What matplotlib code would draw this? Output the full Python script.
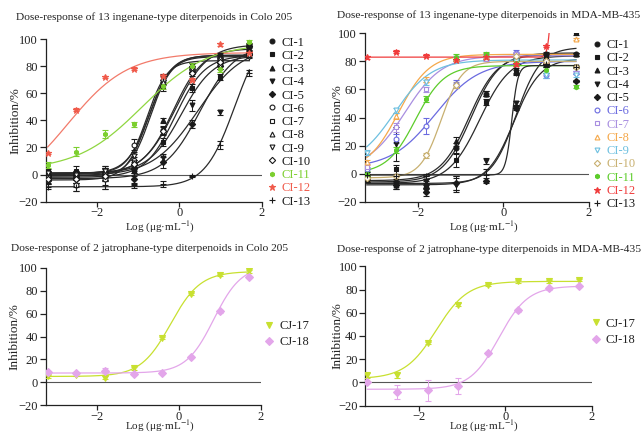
import numpy as np
import matplotlib
matplotlib.use("Agg")
import matplotlib.pyplot as plt
from matplotlib.lines import Line2D

plt.rcParams['font.family'] = ['Liberation Serif', 'DejaVu Serif']
plt.rcParams['mathtext.fontset'] = 'stix'

# ---------------- data ----------------
log_conc = [-3.19, -2.50, -1.80, -1.10, -0.40, 0.30, 1.00, 1.70]

ci_names = ['CI-1', 'CI-2', 'CI-3', 'CI-4', 'CI-5', 'CI-6', 'CI-7', 'CI-8',
            'CI-9', 'CI-10', 'CI-11', 'CI-12', 'CI-13']
ci_markers = ['o', 's', '^', 'v', 'D', 'o', 's', '^', 'v', 'D', 'h', '*', '+']
ci_filled = [True, True, True, True, True, False, False, False, False, False,
             True, True, True]

# Colo 205, ingenane-type
colo_ci_values = [
    [0, 1, 2, 5, 33, 76, 88, 96],
    [2, 3, 1, 3, 24, 64, 72, 90],
    [1, 0, 3, 6, 40, 77, 85, 93],
    [-2, -1, 0, 2, 12, 51, 46, 94],
    [-4, -3, -2, -3, 9, 37, 80, 95],
    [-4, -8, -3, 22, 70, 78, 85, 90],
    [-2, -1, 0, 10, 65, 80, 84, 88],
    [0, 1, 2, 12, 68, 80, 86, 89],
    [1, 0, 3, 14, 72, 78, 80, 87],
    [-3, -3, -1, 8, 32, 75, 83, 89],
    [7, 17, 30, 37, 65, 80, 78, 98],
    [16, 48, 72, 78, 73, 70, 96, 90],
    [-9, -9, -8, -8, -7, -1, 22, 75],
]
colo_ci_errors = [
    [2, 2, 3, 2, 3, 2, 2, 1],
    [2, 3, 2, 2, 3, 3, 2, 1],
    [2, 2, 3, 2, 2, 2, 2, 1],
    [2, 2, 2, 3, 3, 4, 2, 1],
    [2, 3, 3, 4, 4, 3, 2, 1],
    [3, 4, 8, 4, 3, 2, 2, 1],
    [2, 2, 4, 3, 3, 2, 2, 1],
    [2, 2, 3, 3, 2, 2, 2, 1],
    [2, 2, 3, 3, 2, 2, 2, 1],
    [2, 3, 3, 3, 3, 2, 2, 1],
    [2, 3, 3, 2, 2, 2, 2, 1],
    [1, 1, 1, 1, 1, 1, 1, 1],
    [2, 3, 3, 2, 2, 1, 3, 2],
]
colo_ci_bottom = [0, 1, 1, -1, -3, -4, -1, 1, 1, -2, 3, -15, -9]
colo_ci_top = [96, 88, 93, 95, 96, 88, 87, 88, 84, 88, 97, 90, 110]
colo_ci_logec50 = [-0.1, 0.05, -0.15, 0.45, 0.5, -0.75, -0.7, -0.72, -0.78, -0.1, -0.9, -2.7, 1.35]
colo_ci_hill = [1.1, 1.1, 1.2, 0.8, 1.0, 1.6, 1.7, 1.6, 1.8, 1.2, 0.55, 0.6, 1.2]
colo_ci_colors = ['#1a1a1a'] * 10 + ['#7ccf2f', '#f05a4a', '#1a1a1a']
colo_ci_curve_colors = ['#2a2a2a'] * 10 + ['#8fd640', '#f27a6a', '#2a2a2a']

# MDA-MB-435, ingenane-type
mda_ci_values = [
    [-4, -6, -10, 18, 57, 82, 85, 85],
    [-3, 3, -8, 10, 51, 73, 83, 100],
    [-4, -8, -7, 23, 57, 80, 79, 85],
    [-2, 21, -5, -8, 9, 50, 80, 76],
    [-3, -8, -13, -7, -5, 47, 78, 66],
    [3, 25, 34, 64, 83, 86, 70, 72],
    [5, 33, 60, 82, 82, 85, 80, 72],
    [8, 41, 67, 82, 84, 82, 81, 96],
    [15, 45, 65, 82, 83, 80, 70, 70],
    [-3, -2, 13, 63, 84, 84, 80, 76],
    [0, 17, 53, 83, 85, 79, 74, 62],
    [83, 87, 84, 81, 83, 78, 91, np.nan],
    [-1, -2, -2, -7, -1, 72, 78, 76],
]
mda_ci_errors = [
    [2, 2, 3, 4, 2, 2, 2, 1],
    [2, 3, 3, 5, 2, 2, 2, 1],
    [2, 3, 3, 3, 2, 2, 2, 1],
    [2, 12, 3, 5, 2, 2, 2, 1],
    [2, 3, 3, 5, 2, 2, 2, 1],
    [2, 3, 6, 3, 2, 2, 2, 1],
    [2, 3, 2, 2, 2, 2, 2, 1],
    [2, 2, 2, 2, 2, 2, 2, 1],
    [2, 2, 2, 2, 2, 2, 2, 1],
    [2, 2, 2, 2, 2, 2, 2, 1],
    [2, 2, 2, 2, 2, 2, 2, 1],
    [1, 1, 1, 1, 1, 1, 1, 1],
    [2, 2, 2, 5, 4, 2, 2, 1],
]
mda_ci_bottom = [-6, -7, -5, -8, -7, 4, 3, 2, 5, -3, 0, 83, -1]
mda_ci_top = [86, 84, 85, 82, 90, 80, 84, 85, 81, 80, 77, 200, 77]
mda_ci_logec50 = [-0.75, -0.55, -0.8, 0.25, 0.3, -1.6, -2.3, -2.45, -2.55, -1.45, -2.05, 1.15, 0.2]
mda_ci_hill = [1.3, 1.2, 1.3, 1.4, 1.5, 0.85, 1.0, 1.2, 1.0, 1.8, 1.3, 10, 6]
mda_ci_colors = ['#1a1a1a'] * 5 + ['#6a6ae0', '#a88ee0', '#f5a84a', '#6ec0e0',
                                   '#c8b070', '#5ccc2a', '#f03c3c', '#1a1a1a']

# jatrophane-type
cj_names = ['CJ-17', 'CJ-18']
cj_markers = ['v', 'D']
cj_colors = ['#c8e030', '#e3a6ea']
colo_cj_values = [
    [5, 6, 4, 12, 39, 77, 94, 97],
    [9, 8, 10, 7, 8, 22, 62, 92],
]
colo_cj_errors = [
    [1, 1, 1, 1, 1, 1, 1, 1],
    [1, 1, 2, 1, 1, 1, 1, 1],
]
colo_cj_bottom = [5, 8]
colo_cj_top = [97, 102]
colo_cj_logec50 = [-0.2, 0.85]
colo_cj_hill = [1.2, 1.3]

mda_cj_values = [
    [6, 6, 34, 67, 84, 87, 87, 88],
    [0, -8, -7, -3, 25, 62, 81, 83],
]
mda_cj_errors = [
    [2, 2, 1, 1, 1, 1, 1, 1],
    [1, 6, 9, 7, 1, 1, 1, 1],
]
mda_cj_bottom = [3, -6]
mda_cj_top = [87, 83]
mda_cj_logec50 = [-1.6, -0.15]
mda_cj_hill = [1.2, 1.3]


def four_pl(x, bottom, top, logec50, hill):
    return bottom + (top - bottom) / (1 + 10 ** ((logec50 - x) * hill))


fig = plt.figure(figsize=(6.44, 4.34), dpi=100)
W, H = 644, 434


def make_ax(left, right, top, bottom):
    return fig.add_axes([left / W, 1 - bottom / H, (right - left) / W, (bottom - top) / H])


ax1 = make_ax(45.7, 261.7, 39, 201.7)
ax2 = make_ax(364.7, 588.7, 33.3, 201.7)
ax3 = make_ax(45.7, 261.0, 268, 405)
ax4 = make_ax(365.3, 592.0, 266.3, 405.5)

xs = np.linspace(log_conc[0], log_conc[-1], 400)
TXT = '#222222'


def style(ax, ylab_x):
    ax.set_xlim(-3.24, 2)
    ax.set_ylim(-20, 100)
    ax.set_xticks([-2, 0, 2])
    ax.set_yticks([-20, 0, 20, 40, 60, 80, 100])
    ax.set_xticklabels(['\u22122', '0', '2'])
    ax.set_yticklabels(['\u221220', '0', '20', '40', '60', '80', '100'])
    for s in ['top', 'right']:
        ax.spines[s].set_visible(False)
    for s in ['left', 'bottom']:
        ax.spines[s].set_linewidth(0.9)
        ax.spines[s].set_color(TXT)
    ax.tick_params(direction='out', length=4, width=0.9, labelsize=9, pad=1.5, colors=TXT)
    ax.tick_params(axis='x', length=3.5, pad=0.5)
    ax.axhline(0, color='#555555', lw=0.8, zorder=1)
    ax.set_ylabel('Inhibition/%', fontsize=9.5, color=TXT)
    ax.yaxis.set_label_coords(ylab_x, 0.5)


def draw_panel(ax, values, errors, bottoms, tops, ecs, hills, markers, filled, colors, curve_colors, sizes):
    for i in range(len(values)):
        c = colors[i]
        mfc = c if filled[i] else 'white'
        ax.errorbar(log_conc, values[i], yerr=errors[i], fmt=markers[i], color=c,
                    mfc=mfc, mec=c, ms=sizes[i], mew=0.8, capsize=2, elinewidth=0.7,
                    capthick=0.7, zorder=3)
        ys = four_pl(xs, bottoms[i], tops[i], ecs[i], hills[i])
        ax.plot(xs, ys, color=curve_colors[i], lw=0.9, zorder=2)


def legend(ax, names, markers, filled, colors, sizes, x, y, spacing):
    handles = []
    for i in range(len(names)):
        handles.append(Line2D([], [], ls='none', marker=markers[i], color=colors[i],
                              mfc=colors[i] if filled[i] else 'white', mec=colors[i],
                              ms=sizes[i], mew=0.8))
    leg = ax.legend(handles, names, loc='upper left', bbox_to_anchor=(x, y),
                    frameon=False, fontsize=9, handlelength=0.6, handletextpad=0.5,
                    labelspacing=spacing, borderaxespad=0, borderpad=0)
    for t, c in zip(leg.get_texts(), colors):
        t.set_color(c)
    return leg


ci_sizes = [3.5, 3.5, 3.5, 3.5, 3.2, 3.5, 3.5, 3.5, 3.5, 3.2, 3.2, 5, 4.5]

style(ax1, -0.11)
draw_panel(ax1, colo_ci_values, colo_ci_errors, colo_ci_bottom, colo_ci_top, colo_ci_logec50,
           colo_ci_hill, ci_markers, ci_filled, colo_ci_colors, colo_ci_curve_colors, ci_sizes)
legend(ax1, ci_names, ci_markers, ci_filled, colo_ci_colors, ci_sizes, 1.03, 1.015, 0.1)

style(ax2, -0.094)
draw_panel(ax2, mda_ci_values, mda_ci_errors, mda_ci_bottom, mda_ci_top, mda_ci_logec50,
           mda_ci_hill, ci_markers, ci_filled, mda_ci_colors,
           ['#2a2a2a'] * 5 + mda_ci_colors[5:12] + ['#2a2a2a'], ci_sizes)
legend(ax2, ci_names, ci_markers, ci_filled, mda_ci_colors, ci_sizes, 1.02, 0.965, 0.1)

cj_sizes = [4, 4]
style(ax3, -0.119)
draw_panel(ax3, colo_cj_values, colo_cj_errors, colo_cj_bottom, colo_cj_top, colo_cj_logec50,
           colo_cj_hill, cj_markers, [True, True], cj_colors, cj_colors, cj_sizes)
leg = legend(ax3, cj_names, cj_markers, [True, True], [TXT, TXT], cj_sizes, 1.02, 0.62, 0.35)
for h, c in zip(leg.legend_handles, cj_colors):
    h.set_color(c); h.set_mfc(c); h.set_mec(c)

style(ax4, -0.095)
draw_panel(ax4, mda_cj_values, mda_cj_errors, mda_cj_bottom, mda_cj_top, mda_cj_logec50,
           mda_cj_hill, cj_markers, [True, True], cj_colors, cj_colors, cj_sizes)
leg = legend(ax4, cj_names, cj_markers, [True, True], [TXT, TXT], cj_sizes, 1.0, 0.63, 0.35)
for h, c in zip(leg.legend_handles, cj_colors):
    h.set_color(c); h.set_mfc(c); h.set_mec(c)

# titles
tfs = 8.2
fig.text(154 / W, 1 - 17 / H, 'Dose-response of 13 ingenane-type diterpenoids in Colo 205',
         ha='center', va='center', fontsize=tfs, color=TXT)
fig.text(489 / W, 1 - 15 / H, 'Dose-response of 13 ingenane-type diterpenoids in MDA-MB-435',
         ha='center', va='center', fontsize=tfs, color=TXT)
fig.text(150 / W, 1 - 248 / H, 'Dose-response of 2 jatrophane-type diterpenoids in Colo 205',
         ha='center', va='center', fontsize=tfs, color=TXT)
fig.text(489 / W, 1 - 249 / H, 'Dose-response of 2 jatrophane-type diterpenoids in MDA-MB-435',
         ha='center', va='center', fontsize=tfs, color=TXT)

# x labels
xl = r'Log (μg·mL$^{-1}$)'
fig.text(160 / W, 1 - 227 / H, xl, ha='center', va='center', fontsize=8, color=TXT)
fig.text(484 / W, 1 - 227 / H, xl, ha='center', va='center', fontsize=8, color=TXT)
fig.text(160 / W, 0.5 / H, xl, ha='center', va='bottom', fontsize=8, color=TXT)
fig.text(484 / W, 0.5 / H, xl, ha='center', va='bottom', fontsize=8, color=TXT)

fig.savefig('out.png', dpi=100, facecolor='white')
